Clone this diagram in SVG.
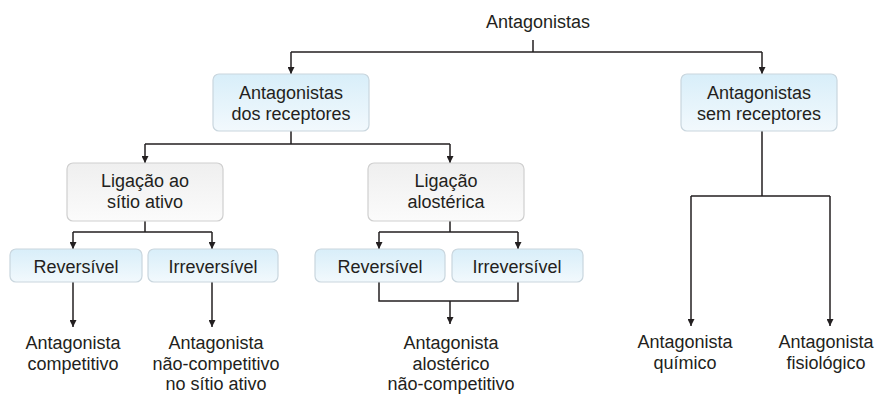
<svg xmlns="http://www.w3.org/2000/svg" width="875" height="394" viewBox="0 0 875 394">
<defs>
<linearGradient id="gBlue" x1="0" y1="0" x2="0" y2="1">
<stop offset="0" stop-color="#d8eef9"/>
<stop offset="1" stop-color="#f2f9fd"/>
</linearGradient>
<linearGradient id="gGray" x1="0" y1="0" x2="0" y2="1">
<stop offset="0" stop-color="#efefef"/>
<stop offset="1" stop-color="#fbfbfb"/>
</linearGradient>
<marker id="ah" viewBox="0 0 10 10" refX="10" refY="5" markerWidth="7" markerHeight="7" markerUnits="userSpaceOnUse" orient="auto">
<path d="M0,0 L10,5 L0,10 z" fill="#231f20"/>
</marker>
<style>
text{font-family:"Liberation Sans",Arial,Helvetica,sans-serif;font-size:18px;fill:#231f20;text-anchor:middle}
.blue{fill:url(#gBlue);stroke:#c9d6de;stroke-width:1.2}
.gray{fill:url(#gGray);stroke:#cfcfcf;stroke-width:1.2}
.c{fill:none;stroke:#231f20;stroke-width:1.5}
.a{fill:none;stroke:#231f20;stroke-width:1.5;marker-end:url(#ah)}
</style>
</defs>
<rect width="875" height="394" fill="#ffffff"/>
<g id="connectors">
<path class="c" d="M533,40 V52 M291,52 H762"/>
<path class="a" d="M291,52 V74"/>
<path class="a" d="M762,52 V74"/>
<path class="c" d="M291,131 V144 M145,144 H450"/>
<path class="a" d="M145,144 V163"/>
<path class="a" d="M450,144 V163"/>
<path class="c" d="M145,221 V232 M73,232 H212"/>
<path class="a" d="M73,232 V249"/>
<path class="a" d="M212,232 V249"/>
<path class="c" d="M450,221 V232 M379,232 H518"/>
<path class="a" d="M379,232 V249"/>
<path class="a" d="M518,232 V249"/>
<path class="a" d="M73,282 V327"/>
<path class="a" d="M212,282 V327"/>
<path class="c" d="M379,282 V301 H518 V282"/>
<path class="a" d="M450,301 V324"/>
<path class="c" d="M762,131 V196 M691,196 H830"/>
<path class="a" d="M691,196 V326"/>
<path class="a" d="M830,196 V326"/>
</g>
<g id="root"><text x="538" y="28">Antagonistas</text></g>
<g id="receptores">
<rect class="blue" x="213" y="74" width="156" height="57" rx="6"/>
<text x="291" y="99">Antagonistas</text>
<text x="291" y="120">dos receptores</text>
</g>
<g id="sem-receptores">
<rect class="blue" x="681" y="74" width="156" height="57" rx="6"/>
<text x="759" y="99">Antagonistas</text>
<text x="759" y="120">sem receptores</text>
</g>
<g id="sitio-ativo">
<rect class="gray" x="67" y="163" width="156" height="58" rx="6"/>
<text x="145" y="187">Ligação ao</text>
<text x="145" y="208">sítio ativo</text>
</g>
<g id="alosterica">
<rect class="gray" x="368" y="163" width="156" height="58" rx="6"/>
<text x="446" y="187">Ligação</text>
<text x="446" y="208">alostérica</text>
</g>
<g id="rev1">
<rect class="blue" x="10" y="249" width="132" height="33" rx="6"/>
<text x="76" y="273">Reversível</text>
</g>
<g id="irr1">
<rect class="blue" x="148" y="249" width="130" height="33" rx="6"/>
<text x="213" y="273">Irreversível</text>
</g>
<g id="rev2">
<rect class="blue" x="315" y="249" width="130" height="33" rx="6"/>
<text x="380" y="273">Reversível</text>
</g>
<g id="irr2">
<rect class="blue" x="452" y="249" width="131" height="33" rx="6"/>
<text x="517" y="273">Irreversível</text>
</g>
<g id="competitivo">
<text x="73" y="349">Antagonista</text>
<text x="73" y="370">competitivo</text>
</g>
<g id="nao-competitivo-sitio">
<text x="216" y="349">Antagonista</text>
<text x="216" y="370">não-competitivo</text>
<text x="216" y="390">no sítio ativo</text>
</g>
<g id="alosterico">
<text x="451" y="349">Antagonista</text>
<text x="451" y="370">alostérico</text>
<text x="451" y="390">não-competitivo</text>
</g>
<g id="quimico">
<text x="685" y="348">Antagonista</text>
<text x="685" y="369">químico</text>
</g>
<g id="fisiologico">
<text x="826" y="348">Antagonista</text>
<text x="826" y="369">fisiológico</text>
</g>
</svg>
